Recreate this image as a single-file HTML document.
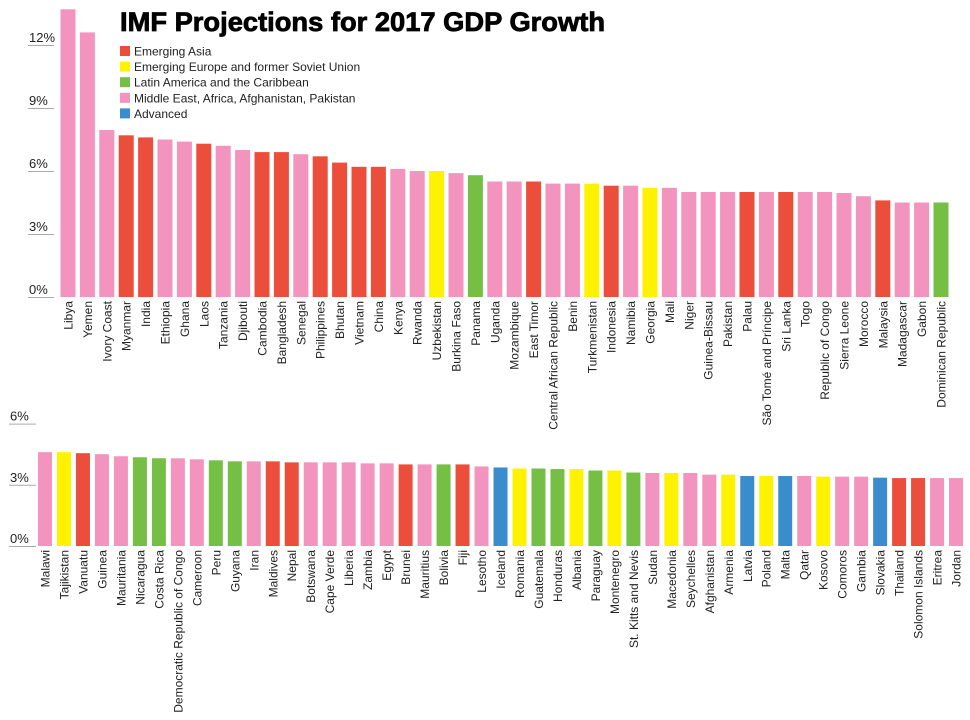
<!DOCTYPE html>
<html><head><meta charset="utf-8"><style>
html,body{margin:0;padding:0;background:#fff;}
svg{display:block;font-family:"Liberation Sans",sans-serif;}
</style></head><body>
<svg id="c" width="970" height="720">
<text x="120" y="31" font-size="27" font-weight="bold" textLength="485" lengthAdjust="spacingAndGlyphs" stroke="#000" stroke-width="0.8">IMF Projections for 2017 GDP Growth</text>
<g id="legend"></g>
<g id="top"></g>
<g id="bot"></g>
</svg>
<script>
const colors={R:"#ec4e3c",Y:"#fff200",G:"#74bf44",P:"#f294bd",B:"#3a8ccc"};
const legendLabels=["Emerging Asia","Emerging Europe and former Soviet Union","Latin America and the Caribbean","Middle East, Africa, Afghanistan, Pakistan","Advanced"];
const legendKeys=["R","Y","G","P","B"];
const topCountries=["Libya","Yemen","Ivory Coast","Myanmar","India","Ethiopia","Ghana","Laos","Tanzania","Djibouti","Cambodia","Bangladesh","Senegal","Philippines","Bhutan","Vietnam","China","Kenya","Rwanda","Uzbekistan","Burkina Faso","Panama","Uganda","Mozambique","East Timor","Central African Republic","Benin","Turkmenistan","Indonesia","Namibia","Georgia","Mali","Niger","Guinea-Bissau","Pakistan","Palau","São Tomé and Príncipe","Sri Lanka","Togo","Republic of Congo","Sierra Leone","Morocco","Malaysia","Madagascar","Gabon","Dominican Republic"];
const topValues=[13.7,12.6,7.95,7.7,7.6,7.5,7.4,7.3,7.2,7.0,6.9,6.9,6.8,6.7,6.4,6.2,6.2,6.1,6.0,6.0,5.9,5.8,5.5,5.5,5.5,5.4,5.4,5.4,5.3,5.3,5.2,5.2,5.0,5.0,5.0,5.0,5.0,5.0,5.0,5.0,4.95,4.8,4.6,4.5,4.5,4.5];
const topGroups="PPPRRPPRPPRRPRRRRPPYPGPPRPPYRPYPPPPRPRPPPPRPPG".split("");
const topTicks=[0,3,6,9,12];
const botCountries=["Malawi","Tajikistan","Vanuatu","Guinea","Mauritania","Nicaragua","Costa Rica","Democratic Republic of Congo","Cameroon","Peru","Guyana","Iran","Maldives","Nepal","Botswana","Cape Verde","Liberia","Zambia","Egypt","Brunei","Mauritius","Bolivia","Fiji","Lesotho","Iceland","Romania","Guatemala","Honduras","Albania","Paraguay","Montenegro","St. Kitts and Nevis","Sudan","Macedonia","Seychelles","Afghanistan","Armenia","Latvia","Poland","Malta","Qatar","Kosovo","Comoros","Gambia","Slovakia","Thailand","Solomon Islands","Eritrea","Jordan"];
const botValues=[4.6,4.6,4.55,4.5,4.4,4.35,4.3,4.3,4.25,4.2,4.15,4.15,4.15,4.1,4.1,4.1,4.1,4.05,4.05,4.0,4.0,4.0,4.0,3.9,3.85,3.8,3.8,3.77,3.77,3.7,3.7,3.6,3.58,3.58,3.58,3.5,3.5,3.43,3.43,3.43,3.43,3.4,3.4,3.4,3.35,3.33,3.33,3.33,3.33];
const botGroups="PYRPPGGPPGGPRRPPPPPRPGRPBYGGYGYGPYPPYBYBPYPPBRRPP".split("");
const botTicks=[0,3,6];
const NS="http://www.w3.org/2000/svg";
function mk(tag,attrs,parent){const e=document.createElementNS(NS,tag);for(const k in attrs)e.setAttribute(k,attrs[k]);parent.appendChild(e);return e;}
const lg=document.getElementById("legend");
legendLabels.forEach((l,i)=>{
  const y=51+i*15.6;
  const r=mk("rect",{x:120,y:y-5,width:10,height:10,fill:colors[legendKeys[i]]},lg);
  
  
  const t=mk("text",{x:134,y:y+4.5,"font-size":12,fill:"#222"},lg);
  
  
  t.textContent=l;
});
function panel(g,cats,vals,grps,ticks,base,ppu,x0,step,bw,tx0,tx1){
  const ys=v=>base-v*ppu, xs=i=>x0+i*step;
  ticks.forEach(t=>{
    const ln=mk("line",{x1:tx0,x2:tx1,y1:ys(t)+0.5,y2:ys(t)+0.5,stroke:"#aaa","stroke-width":1},g);
    
    
    const tx=mk("text",{x:tx0+1,y:ys(t)-3,"font-size":13,fill:"#222"},g);
    
    
    tx.textContent=t+"%";
  });
  cats.forEach((c,i)=>{
    const b=mk("rect",{x:xs(i)-bw/2,y:ys(vals[i]),width:bw,height:vals[i]*ppu,fill:colors[grps[i]]},g);
    
    
    const t=mk("text",{x:0,y:0,"font-size":12,fill:"#222","text-anchor":"end",transform:`translate(${xs(i)+4.5},${base+4}) rotate(-90)`},g);
    
    
    t.textContent=c;
  });
}
panel(document.getElementById("top"),topCountries,topValues,topGroups,topTicks,297,21,68,19.4,15,28,54);
panel(document.getElementById("bot"),botCountries,botValues,botGroups,botTicks,546,20.4,45,18.98,14,9,36);
</script>
</body></html>
